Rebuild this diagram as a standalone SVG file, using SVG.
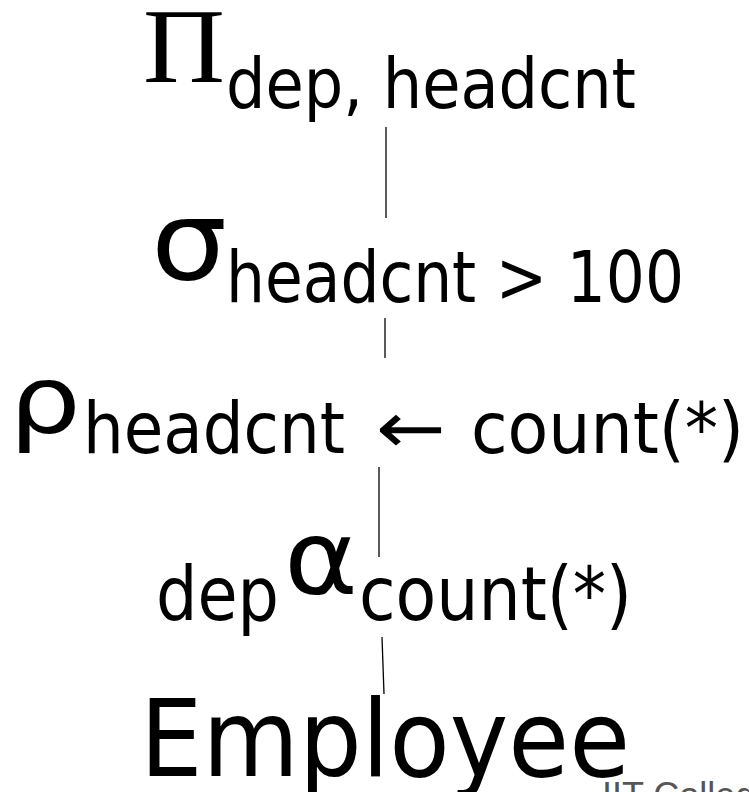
<svg xmlns="http://www.w3.org/2000/svg" width="749" height="792" viewBox="0 0 749 792">
<style>
.s{font-family:"DejaVu Sans","Liberation Sans",sans-serif;fill:#000}
.t{font-family:"Liberation Serif",serif;fill:#000}
.c{stroke:#000;stroke-width:1.3;fill:none}
.f{font-family:"Liberation Sans",sans-serif;fill:#555;font-size:36px}
</style>
<rect width="749" height="792" fill="#fff"/>
<g id="projection">
<text class="t" x="143" y="82" font-size="106" textLength="82" lengthAdjust="spacingAndGlyphs">Π</text>
<text class="s" x="226" y="108" font-size="70" textLength="410" lengthAdjust="spacingAndGlyphs">dep, headcnt</text>
</g>
<g id="selection">
<text class="s" x="151" y="279" font-size="110" textLength="76" lengthAdjust="spacingAndGlyphs">σ</text>
<text class="s" x="226" y="302" font-size="71" textLength="458" lengthAdjust="spacingAndGlyphs">headcnt &gt; 100</text>
</g>
<g id="rename">
<text class="s" x="9" y="433" font-size="95" textLength="72" lengthAdjust="spacingAndGlyphs">ρ</text>
<text class="s" x="83" y="453" font-size="72" textLength="262" lengthAdjust="spacingAndGlyphs">headcnt</text>
<text class="s" x="376" y="453" font-size="72" textLength="70" lengthAdjust="spacingAndGlyphs">←</text>
<text class="s" x="471" y="453" font-size="72" textLength="273" lengthAdjust="spacingAndGlyphs">count(*)</text>
</g>
<g id="aggregation">
<text class="s" x="156" y="620" font-size="75" textLength="123" lengthAdjust="spacingAndGlyphs">dep</text>
<text class="s" x="284" y="594" font-size="104" textLength="74" lengthAdjust="spacingAndGlyphs">α</text>
<text class="s" x="359" y="620" font-size="75" textLength="273" lengthAdjust="spacingAndGlyphs">count(*)</text>
</g>
<g id="employee">
<text class="s" x="140" y="776" font-size="107" textLength="490" lengthAdjust="spacingAndGlyphs">Employee</text>
</g>
<g id="connectors">
<line class="c" x1="386" y1="127" x2="386" y2="218"/>
<line class="c" x1="385" y1="318" x2="385" y2="358"/>
<line class="c" x1="379" y1="467" x2="379" y2="557"/>
<line class="c" x1="382" y1="637" x2="384" y2="694"/>
</g>
<text class="f" x="602" y="808">IIT College</text>
</svg>
